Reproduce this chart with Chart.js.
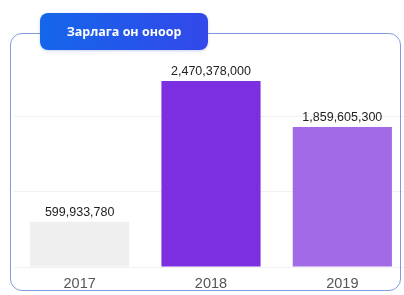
<!DOCTYPE html>
<html>
<head>
<meta charset="utf-8">
<script src="https://cdn.jsdelivr.net/npm/chart.js@4/dist/chart.umd.min.js"></script>
<style>
html,body{margin:0;padding:0;width:404px;height:295px;overflow:hidden;background:#fff;}
#frame{position:absolute;left:10px;top:33px;width:391px;height:258px;border:1.5px solid #7f9ce2;border-radius:12px;box-sizing:border-box;}
#badge{position:absolute;left:40px;top:13px;width:168px;height:37px;border-radius:8px;background:linear-gradient(90deg,#1466ea,#3348ea);color:#fff;font:bold 12.5px "Open Sans",sans-serif;display:flex;align-items:center;justify-content:center;box-shadow:0 1px 3px rgba(40,70,200,0.25);}
#wrap{position:absolute;left:0;top:0;width:410px;height:295px;}
</style>
</head>
<body>
<div id="frame"></div>
<div id="wrap"><canvas id="c" width="410" height="295"></canvas></div>
<div id="badge">Зарлага он оноор</div>
<script>
const categories = ["2017", "2018", "2019"];
const values = [599933780, 2470378000, 1859605300];
const barColors = ["#efefef", "#7b2fe1", "#a26ae7"];
const yMax = 3000000000;

const valueLabels = {
  id: 'valueLabels',
  afterDatasetsDraw(chart) {
    const ctx = chart.ctx;
    const meta = chart.getDatasetMeta(0);
    ctx.save();
    ctx.font = '12.5px "Liberation Sans", Arial, sans-serif';
    ctx.fillStyle = '#222';
    ctx.textAlign = 'center';
    ctx.textBaseline = 'bottom';
    meta.data.forEach((el, i) => {
      ctx.fillText(values[i].toLocaleString('en-US'), el.x, el.y - 3);
    });
    ctx.restore();
  }
};

new Chart(document.getElementById('c'), {
  type: 'bar',
  data: {
    labels: categories,
    datasets: [{
      data: values,
      backgroundColor: barColors,
      borderWidth: 0,
      barPercentage: 0.755,
      categoryPercentage: 1
    }]
  },
  options: {
    responsive: false,
    animation: false,
    layout: { padding: { left: 14, right: 2, top: 41, bottom: 0 } },
    plugins: { legend: { display: false }, tooltip: { enabled: false } },
    scales: {
      x: {
        grid: { display: false, drawTicks: false },
        border: { display: false },
        ticks: { color: '#555', font: { family: '"Liberation Sans", Arial, sans-serif', size: 14.5 }, padding: 8 },
        afterFit(s) { s.height = 28; }
      },
      y: {
        min: 0, max: yMax,
        ticks: { display: false, stepSize: 1000000000 },
        border: { display: false },
        grid: {
          drawTicks: false,
          color: (c) => c.tick && c.tick.value === yMax ? 'rgba(0,0,0,0)' : 'rgba(0,0,0,0.06)'
        },
        afterFit(s) { s.width = 0; }
      }
    }
  },
  plugins: [valueLabels]
});
</script>
</body>
</html>
